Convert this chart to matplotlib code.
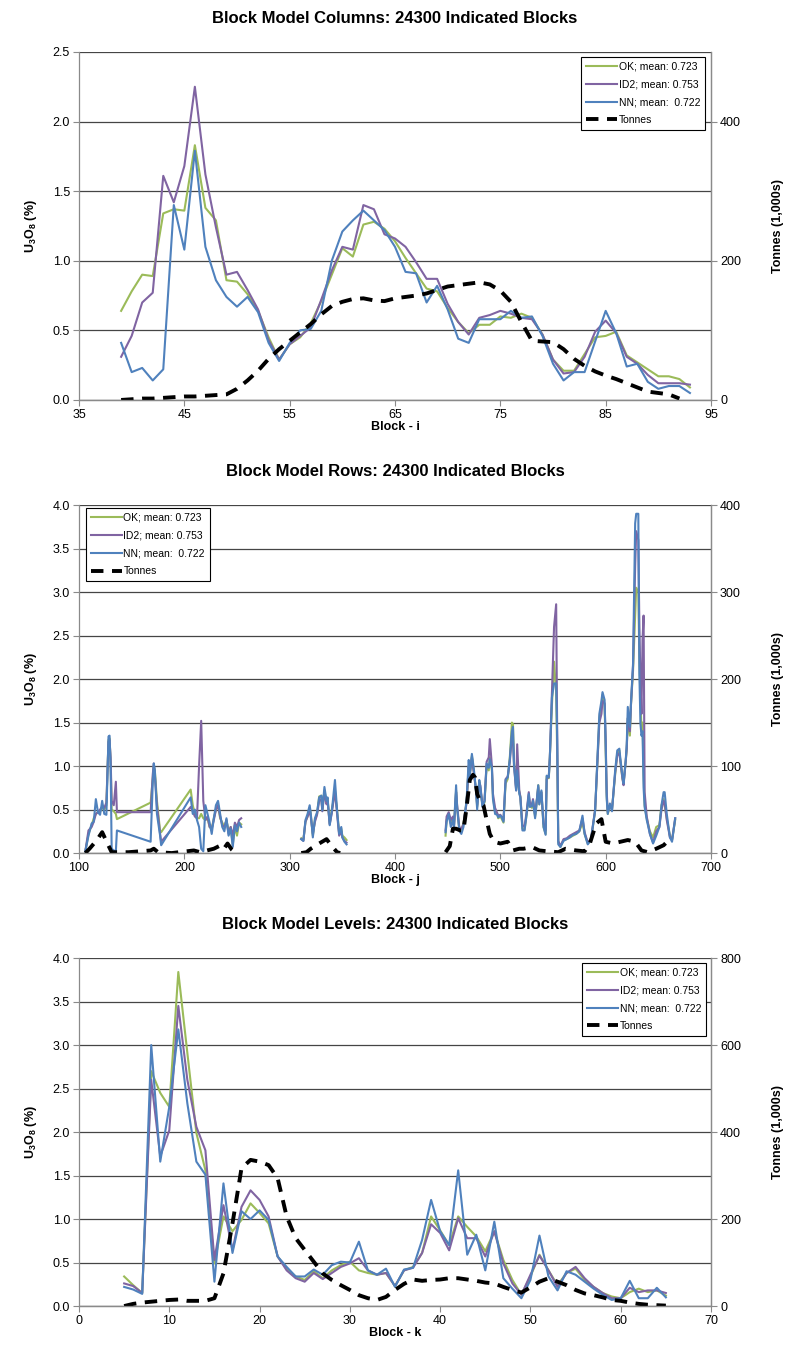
import numpy as np
import matplotlib
matplotlib.use("Agg")
import matplotlib.pyplot as plt
from matplotlib.ticker import MultipleLocator, FormatStrFormatter

plt.rcParams['font.family'] = ['Liberation Sans', 'DejaVu Sans']
plt.rcParams['mathtext.fontset'] = 'custom'
plt.rcParams['mathtext.rm'] = 'Liberation Sans:bold'
plt.rcParams['mathtext.it'] = 'Liberation Sans:bold'
plt.rcParams['mathtext.bf'] = 'Liberation Sans:bold'

GREEN = '#9bbb59'
PURPLE = '#8064a2'
BLUE = '#4f81bd'
names = ['OK; mean: 0.723', 'ID2; mean: 0.753', 'NN; mean:  0.722', 'Tonnes']
nan = np.nan

# ---- columns (block i) ----
i_col = list(range(39, 94))
ok_col = [0.64, 0.78, 0.90, 0.89, 1.34, 1.37, 1.36, 1.83, 1.38, 1.29,
          0.86, 0.85, 0.76, 0.64, 0.45, 0.29, 0.40, 0.45, 0.55, 0.71,
          0.90, 1.09, 1.03, 1.26, 1.28, 1.23, 1.14, 1.02, 0.91, 0.80,
          0.78, 0.66, 0.56, 0.48, 0.54, 0.54, 0.60, 0.59, 0.62, 0.59,
          0.47, 0.29, 0.21, 0.21, 0.33, 0.45, 0.46, 0.49, 0.32, 0.27,
          0.22, 0.17, 0.17, 0.15, 0.09]
id2_col = [0.31, 0.46, 0.70, 0.77, 1.61, 1.42, 1.68, 2.25, 1.62, 1.24,
           0.90, 0.92, 0.79, 0.65, 0.43, 0.29, 0.40, 0.46, 0.52, 0.72,
           0.93, 1.10, 1.08, 1.40, 1.37, 1.19, 1.16, 1.10, 0.99, 0.87,
           0.87, 0.69, 0.56, 0.47, 0.59, 0.61, 0.64, 0.62, 0.59, 0.58,
           0.47, 0.29, 0.19, 0.20, 0.31, 0.49, 0.57, 0.48, 0.31, 0.26,
           0.18, 0.12, 0.12, 0.12, 0.11]
nn_col = [0.41, 0.20, 0.23, 0.14, 0.22, 1.40, 1.08, 1.79, 1.10, 0.86,
          0.74, 0.67, 0.74, 0.63, 0.41, 0.28, 0.41, 0.50, 0.51, 0.64,
          1.00, 1.21, 1.29, 1.36, 1.29, 1.22, 1.10, 0.92, 0.91, 0.70,
          0.82, 0.65, 0.44, 0.41, 0.58, 0.58, 0.58, 0.64, 0.59, 0.60,
          0.46, 0.26, 0.14, 0.20, 0.20, 0.42, 0.64, 0.48, 0.24, 0.26,
          0.13, 0.08, 0.10, 0.10, 0.05]
t_col = [0, 1, 2, 2, 3, 4, 5, 5, 6, 7,
         8, 16, 28, 42, 59, 73, 85, 97, 109, 123,
         135, 141, 145, 146, 143, 142, 146, 148, 150, 153,
         158, 163, 165, 167, 169, 166, 157, 141, 112, 85,
         84, 83, 73, 59, 49, 41, 35, 30, 24, 18,
         12, 10, 8, 2, nan]

# ---- rows (block j) ----
j_row = [106, 109, 112, 114, 116, 118, 120, 122, 124, 126, 128, 129, 130, 131, 133, 135, 136,
         168, 170, 171, 172, 174, 177, 178,
         206, 208, 210, 212, 214, 216, 218, 220, 222, 224, 226, 228, 230, 232, 234, 236, 238,
         240, 242, 244, 246, 248, 250, 252, 254,
         280,
         311, 313, 315, 317, 319, 320, 322, 324, 326, 328, 330, 331, 333, 335, 336, 338, 340,
         343, 345, 347, 349, 350, 352, 354,
         400,
         448, 449, 451, 453, 455, 456, 458, 459, 461, 463, 465, 466, 468, 470, 471, 473, 475,
         477, 478, 480, 481, 483, 485, 487, 489, 490, 492, 493, 495, 497, 498, 500, 501, 503,
         505, 507, 509, 511, 512, 513, 515, 516, 518, 519, 521, 523, 525, 527, 528, 530, 531,
         533, 534, 536, 537, 539, 541, 543, 544, 546, 547, 549, 551, 553, 554, 555, 557, 560,
         563, 566, 569, 572, 575, 578, 580, 583, 586, 590, 592, 594, 596, 597, 599, 600, 601,
         602, 604, 606, 609, 611, 613, 614, 616, 617, 619, 620, 621, 623, 624, 626, 628, 629,
         631, 632, 633, 634, 635, 636, 637, 639, 642, 645, 648, 651, 653, 655, 656, 658, 661,
         663, 666]
ok_row = [0.02, 0.22, 0.32, 0.40, 0.45, 0.47, 0.48, 0.52, 0.50, 0.55, 1.30, 1.32, 1.05, 0.50, 0.48, 0.45, 0.39,
          0.58, 0.85, 1.00, 0.95, 0.60, 0.25, 0.24,
          0.73, 0.55, 0.45, 0.40, 0.40, 0.45, 0.40, 0.38, 0.40, 0.30, 0.28, 0.40, 0.50, 0.55, 0.40, 0.35, 0.30,
          0.38, 0.25, 0.30, 0.10, 0.30, 0.20, 0.35, 0.33,
          nan,
          0.17, 0.15, 0.36, 0.42, 0.52, 0.45, 0.20, 0.38, 0.45, 0.65, 0.66, 0.50, 0.72, 0.58, 0.62, 0.34, 0.50,
          0.70, 0.50, 0.22, 0.28, 0.20, 0.18, 0.15,
          nan,
          0.20, 0.38, 0.44, 0.34, 0.40, 0.32, 0.72, 0.52, 0.28, 0.25, 0.35, 0.41, 0.60, 1.00, 0.90, 1.12, 0.92,
          0.72, 0.53, 0.82, 0.75, 0.55, 0.58, 1.00, 0.95, 1.10, 0.95, 0.64, 0.48, 0.45, 0.40, 0.42, 0.40, 0.35,
          0.80, 0.85, 1.10, 1.50, 1.48, 1.05, 0.75, 0.90, 0.70, 0.65, 0.28, 0.27, 0.45, 0.66, 0.55, 0.52, 0.60,
          0.42, 0.52, 0.78, 0.56, 0.70, 0.30, 0.22, 0.88, 0.86, 1.10, 1.70, 2.20, 1.85, 1.10, 0.12, 0.07, 0.15,
          0.16, 0.18, 0.20, 0.22, 0.25, 0.35, 0.22, 0.11, 0.14, 0.49, 1.00, 1.55, 1.70, 1.82, 1.70, 1.20, 0.65,
          0.45, 0.55, 0.50, 0.90, 1.15, 1.18, 1.05, 0.85, 0.80, 1.05, 1.20, 1.55, 1.35, 1.70, 2.10, 2.75, 3.05,
          3.00, 2.20, 1.80, 1.40, 1.50, 0.90, 0.55, 0.40, 0.25, 0.18, 0.30, 0.32, 0.55, 0.62, 0.55, 0.40, 0.20,
          0.15, 0.38]
id2_row = [0.02, 0.26, 0.30, 0.36, 0.45, 0.47, 0.50, 0.53, 0.52, 0.58, 1.28, 1.30, 1.10, 0.60, 0.55, 0.82, 0.47,
           0.47, 0.90, 1.03, 0.90, 0.55, 0.22, 0.13,
           0.53, 0.48, 0.42, 0.40, 1.00, 1.52, 0.60, 0.38, 0.42, 0.30, 0.28, 0.38, 0.50, 0.55, 0.42, 0.32, 0.30,
           0.38, 0.22, 0.30, 0.20, 0.35, 0.30, 0.38, 0.40,
           nan,
           0.16, 0.14, 0.36, 0.42, 0.48, 0.42, 0.22, 0.36, 0.44, 0.60, 0.62, 0.48, 0.70, 0.56, 0.60, 0.33, 0.46,
           0.72, 0.45, 0.20, 0.25, 0.18, 0.14, 0.12,
           nan,
           0.26, 0.42, 0.47, 0.38, 0.42, 0.30, 0.70, 0.55, 0.30, 0.28, 0.33, 0.42, 0.58, 1.00, 0.92, 1.10, 0.90,
           0.72, 0.55, 0.80, 0.78, 0.55, 0.60, 1.05, 1.10, 1.31, 1.00, 0.68, 0.52, 0.46, 0.43, 0.44, 0.42, 0.38,
           0.85, 0.88, 1.05, 1.35, 1.30, 1.00, 0.72, 1.25, 0.72, 0.65, 0.32, 0.30, 0.48, 0.70, 0.58, 0.55, 0.62,
           0.44, 0.55, 0.76, 0.58, 0.70, 0.34, 0.26, 0.85, 0.88, 1.10, 1.85, 2.60, 2.86, 1.35, 0.14, 0.08, 0.16,
           0.17, 0.20, 0.22, 0.24, 0.26, 0.40, 0.24, 0.12, 0.16, 0.50, 1.00, 1.50, 1.60, 1.75, 1.72, 1.30, 0.70,
           0.47, 0.55, 0.50, 0.92, 1.12, 1.15, 1.05, 0.85, 0.78, 1.05, 1.20, 1.55, 1.40, 1.70, 2.15, 3.30, 3.70,
           3.60, 2.60, 2.00, 1.60, 2.45, 2.73, 0.70, 0.42, 0.22, 0.12, 0.25, 0.30, 0.50, 0.60, 0.58, 0.38, 0.18,
           0.15, 0.40]
nn_row = [0.02, 0.20, 0.34, 0.36, 0.62, 0.47, 0.44, 0.60, 0.45, 0.44, 1.34, 1.35, 1.00, 0.05, 0.03, 0.02, 0.26,
          0.13, 0.80, 1.03, 0.95, 0.45, 0.20, 0.09,
          0.64, 0.45, 0.50, 0.38, 0.30, 0.05, 0.02, 0.55, 0.45, 0.35, 0.22, 0.40, 0.55, 0.60, 0.45, 0.30, 0.25,
          0.40, 0.20, 0.28, 0.07, 0.32, 0.25, 0.35, 0.30,
          nan,
          0.16, 0.14, 0.38, 0.45, 0.55, 0.46, 0.18, 0.40, 0.47, 0.64, 0.66, 0.49, 0.76, 0.60, 0.64, 0.32, 0.48,
          0.84, 0.49, 0.22, 0.30, 0.18, 0.13, 0.10,
          nan,
          0.24, 0.36, 0.45, 0.30, 0.38, 0.30, 0.78, 0.52, 0.26, 0.22, 0.30, 0.40, 0.62, 1.07, 0.88, 1.14, 0.95,
          0.70, 0.50, 0.84, 0.76, 0.53, 0.60, 1.03, 0.98, 1.08, 0.98, 0.62, 0.45, 0.44, 0.41, 0.43, 0.42, 0.36,
          0.84, 0.87, 1.08, 1.40, 1.45, 1.02, 0.72, 0.95, 0.68, 0.64, 0.26, 0.26, 0.45, 0.68, 0.53, 0.54, 0.60,
          0.40, 0.52, 0.78, 0.56, 0.72, 0.30, 0.21, 0.89, 0.87, 1.10, 1.79, 1.95, 1.95, 1.30, 0.10, 0.07, 0.14,
          0.16, 0.18, 0.21, 0.22, 0.25, 0.43, 0.22, 0.10, 0.15, 0.49, 1.05, 1.60, 1.75, 1.85, 1.76, 1.26, 0.62,
          0.45, 0.57, 0.48, 0.95, 1.18, 1.20, 1.08, 0.88, 0.80, 1.06, 1.25, 1.68, 1.45, 1.72, 2.18, 3.79, 3.90,
          3.90, 2.06, 1.49, 1.35, 1.40, 0.75, 0.53, 0.38, 0.22, 0.11, 0.20, 0.30, 0.55, 0.70, 0.70, 0.45, 0.18,
          0.13, 0.40]
jt_row = [106, 110, 117, 122, 127, 131, 147, 168, 171, 175, 188, 209, 215, 228, 233, 237, 241, 245, 249,
          280,
          311, 316, 320, 328, 335, 340, 345, 348,
          400,
          448, 452, 455, 458, 462, 465, 468, 471, 474, 476, 478, 481, 484, 487, 490, 494, 500, 507,
          512, 518, 522, 530, 537, 545, 555, 562, 572, 580, 585, 591, 596, 600, 607, 614, 621, 628,
          634, 640, 648, 655, 660]
t_row = [0, 5, 15, 24, 11, 1, 1, 3, 5, 1, 0, 3, 1, 5, 8, 4, 11, 4, 0,
         nan,
         0, 1, 5, 11, 16, 8, 1, 0,
         nan,
         1, 8, 28, 28, 26, 26, 53, 84, 90, 87, 68, 59, 55, 38, 22, 13, 11, 13,
         3, 5, 5, 7, 3, 2, 1, 5, 3, 2, 11, 34, 39, 13, 11, 13, 15, 13,
         3, 1, 5, 9, 15]

# ---- levels (block k) ----
k_lev = list(range(5, 66))
ok_lev = [0.34, 0.24, 0.15, 2.70, 2.45, 2.29, 3.84, 2.91, 1.99, 1.56,
          0.49, 1.03, 0.86, 0.99, 1.18, 1.07, 0.95, 0.57, 0.43, 0.34,
          0.30, 0.40, 0.32, 0.41, 0.47, 0.51, 0.41, 0.38, 0.36, 0.38,
          0.23, 0.41, 0.45, 0.61, 1.03, 0.87, 0.70, 1.03, 0.91, 0.80,
          0.63, 0.86, 0.53, 0.30, 0.13, 0.34, 0.59, 0.41, 0.24, 0.38,
          0.43, 0.30, 0.22, 0.15, 0.11, 0.09, 0.16, 0.20, 0.16, 0.18,
          0.12]
id2_lev = [0.26, 0.23, 0.15, 2.60, 1.72, 2.02, 3.45, 2.60, 2.06, 1.79,
           0.53, 1.16, 0.64, 1.14, 1.33, 1.22, 1.03, 0.57, 0.41, 0.32,
           0.28, 0.38, 0.31, 0.38, 0.45, 0.49, 0.55, 0.41, 0.36, 0.38,
           0.23, 0.41, 0.44, 0.61, 0.94, 0.84, 0.64, 1.01, 0.78, 0.78,
           0.57, 0.86, 0.49, 0.26, 0.13, 0.36, 0.58, 0.41, 0.22, 0.38,
           0.45, 0.32, 0.22, 0.15, 0.09, 0.09, 0.21, 0.16, 0.18, 0.18,
           0.15]
nn_lev = [0.22, 0.19, 0.14, 3.00, 1.66, 2.29, 3.18, 2.33, 1.66, 1.51,
          0.28, 1.41, 0.61, 1.09, 1.00, 1.10, 0.99, 0.57, 0.45, 0.34,
          0.34, 0.42, 0.36, 0.47, 0.51, 0.50, 0.74, 0.41, 0.36, 0.43,
          0.22, 0.42, 0.44, 0.76, 1.22, 0.86, 0.70, 1.56, 0.59, 0.82,
          0.41, 0.97, 0.32, 0.20, 0.09, 0.30, 0.81, 0.34, 0.18, 0.40,
          0.36, 0.28, 0.20, 0.13, 0.07, 0.09, 0.29, 0.09, 0.09, 0.21,
          0.10]
t_lev = [0, 5, 8, 10, 12, 14, 15, 12, 12, 12,
         18, 75, 190, 317, 336, 332, 324, 294, 206, 156,
         129, 102, 75, 60, 48, 37, 25, 18, 14, 21,
         37, 51, 61, 58, 60, 61, 64, 64, 61, 58,
         54, 52, 44, 37, 31, 43, 56, 64, 56, 48,
         37, 29, 25, 20, 14, 12, 8, 5, 3, 2,
         1]


def panel(ax, x, ok, id2, nn, xt, tonnes, title, xlabel, xticks,
          ymax, t_max, t_step, leg_loc, leg_anchor):
    ax.plot(x, ok, color=GREEN, lw=1.5)
    ax.plot(x, id2, color=PURPLE, lw=1.5)
    ax.plot(x, nn, color=BLUE, lw=1.5)
    ax.set_xlim(xticks[0], xticks[-1])
    ax.set_xticks(xticks)
    ax.set_ylim(0, ymax)
    ax.yaxis.set_major_locator(MultipleLocator(0.5))
    ax.yaxis.set_major_formatter(FormatStrFormatter('%.1f'))
    ax.yaxis.grid(True, color='#454545', lw=0.9)
    ax.set_axisbelow(True)
    ax.set_title(title, fontsize=12, fontweight='bold', pad=21)
    ax.set_xlabel(xlabel, fontsize=9, fontweight='bold', labelpad=0)
    ax.set_ylabel('U$_3$O$_8$ (%)', fontsize=9, fontweight='bold', labelpad=10)

    ax2 = ax.twinx()
    ax2.plot(xt, tonnes, color='black', lw=2.8, dashes=(3.2, 2.2))
    ax2.set_ylim(0, t_max)
    ax2.yaxis.set_major_locator(MultipleLocator(t_step))
    ax2.set_ylabel('Tonnes (1,000s)', fontsize=9, fontweight='bold', labelpad=22)

    for a in (ax, ax2):
        a.spines['top'].set_visible(False)
        for s in ('left', 'right', 'bottom'):
            a.spines[s].set_color('#8a8a8a')
            a.spines[s].set_linewidth(0.9)
        a.tick_params(labelsize=9, length=4, width=0.8, color='#8a8a8a',
                      direction='out', pad=2.5)
    ax2.spines['left'].set_visible(False)

    handles = ax.get_lines() + ax2.get_lines()
    leg = ax2.legend(handles, names, loc=leg_loc, bbox_to_anchor=leg_anchor,
                     borderaxespad=0, fontsize=7.5, handlelength=3.0,
                     handletextpad=0.15, labelspacing=0.75, borderpad=0.45,
                     fancybox=False, framealpha=1, edgecolor='black')
    leg.get_frame().set_linewidth(0.8)


fig = plt.figure(figsize=(7.9, 13.53), dpi=100)
ax_a = fig.add_axes([0.1, 0.7044, 0.8, 0.2572])
ax_b = fig.add_axes([0.1, 0.3695, 0.8, 0.2572])
ax_c = fig.add_axes([0.1, 0.0347, 0.8, 0.2572])

panel(ax_a, i_col, ok_col, id2_col, nn_col, i_col, t_col,
      'Block Model Columns: 24300 Indicated Blocks', 'Block - i',
      list(range(35, 96, 10)), 2.5, 500, 200, 'upper right', (0.9905, 0.9856))
panel(ax_b, j_row, ok_row, id2_row, nn_row, jt_row, t_row,
      'Block Model Rows: 24300 Indicated Blocks', 'Block - j',
      list(range(100, 701, 100)), 4.0, 400, 100, 'upper left', (0.011, 0.991))
panel(ax_c, k_lev, ok_lev, id2_lev, nn_lev, k_lev, t_lev,
      'Block Model Levels: 24300 Indicated Blocks', 'Block - k',
      list(range(0, 71, 10)), 4.0, 800, 200, 'upper right', (0.992, 0.986))

fig.savefig('out.png', dpi=100, facecolor='white')
